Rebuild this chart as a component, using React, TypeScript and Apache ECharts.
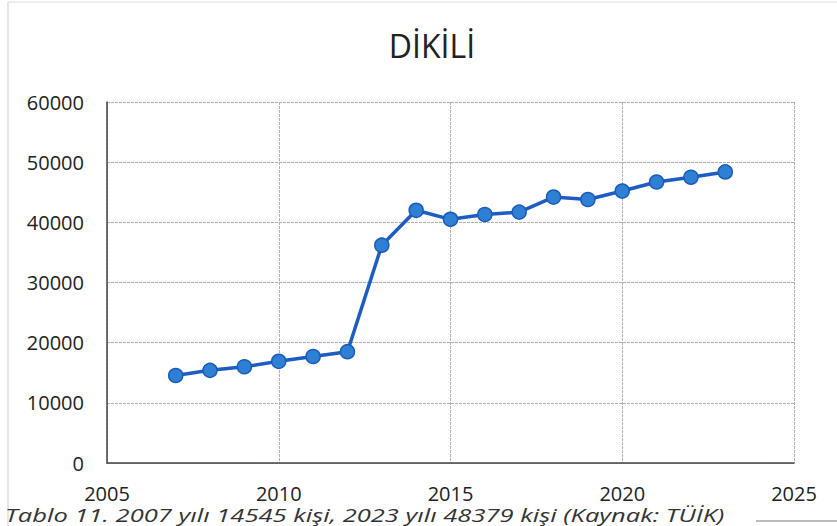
import React, { useEffect, useRef } from "react";
import * as echarts from "echarts";

const years = [2007, 2008, 2009, 2010, 2011, 2012, 2013, 2014, 2015, 2016, 2017, 2018, 2019, 2020, 2021, 2022, 2023];
const population = [14545, 15400, 16000, 16900, 17700, 18500, 36200, 42000, 40500, 41300, 41700, 44200, 43800, 45200, 46700, 47500, 48379];
const titleText = "DİKİLİ";
const captionText = "Tablo 11. 2007 yılı 14545 kişi, 2023 yılı 48379 kişi (Kaynak: TÜİK)";

export default function App() {
  const ref = useRef<HTMLDivElement>(null);
  useEffect(() => {
    document.body.style.margin = "0";
    const chart = echarts.init(ref.current!, null, { renderer: "svg" });
    const font = "'Open Sans', 'Noto Sans', sans-serif";
    chart.setOption({
      animation: false,
      backgroundColor: "#ffffff",
      title: {
        text: titleText,
        left: 427,
        top: 24,
        textAlign: "center",
        textStyle: { fontFamily: font, fontSize: 32, fontWeight: "normal", color: "#222" },
      },
      grid: { left: 107, right: 43, top: 102, bottom: 63 },
      xAxis: {
        type: "value",
        min: 2005,
        max: 2025,
        interval: 5,
        axisLine: { show: true, lineStyle: { color: "#444", width: 1.5 } },
        axisTick: { show: false },
        axisLabel: { fontFamily: font, fontSize: 20, color: "#222", margin: 20, formatter: (v: number) => String(v) },
        splitLine: { show: true, lineStyle: { color: "#b0b0b0", type: [3, 1], width: 1 } },
      },
      yAxis: {
        type: "value",
        min: 0,
        max: 60000,
        interval: 10000,
        axisLine: { show: true, lineStyle: { color: "#444", width: 1.5 } },
        axisTick: { show: false },
        axisLabel: { fontFamily: font, fontSize: 20, color: "#222", margin: 23, formatter: (v: number) => String(v) },
        splitLine: { show: true, lineStyle: { color: "#b0b0b0", type: [3, 1], width: 1 } },
      },
      series: [
        {
          type: "line",
          data: years.map((y, i) => [y, population[i]]),
          symbol: "circle",
          symbolSize: 14,
          lineStyle: { color: "#1d5cc2", width: 3.5 },
          itemStyle: { color: "#2e80d4", borderColor: "#1a5cb8", borderWidth: 1.5 },
        },
      ],
      graphic: [
        { type: "line", shape: { x1: 8, y1: 2, x2: 8, y2: 526 }, style: { stroke: "#cfcfcf", lineWidth: 1 } },
        { type: "line", shape: { x1: 8, y1: 2, x2: 837, y2: 2 }, style: { stroke: "#dedede", lineWidth: 1 } },
        {
          type: "text",
          x: 5,
          y: 524,
          scaleX: 1.42,
          style: { text: captionText, font: `italic 18px ${font}`, fill: "#333", verticalAlign: "bottom" },
        },
        { type: "line", shape: { x1: 756, y1: 521, x2: 837, y2: 521 }, style: { stroke: "#bbb", lineWidth: 2 } },
      ],
    });
    return () => chart.dispose();
  }, []);
  return <div ref={ref} style={{ width: 837, height: 526 }} />;
}
